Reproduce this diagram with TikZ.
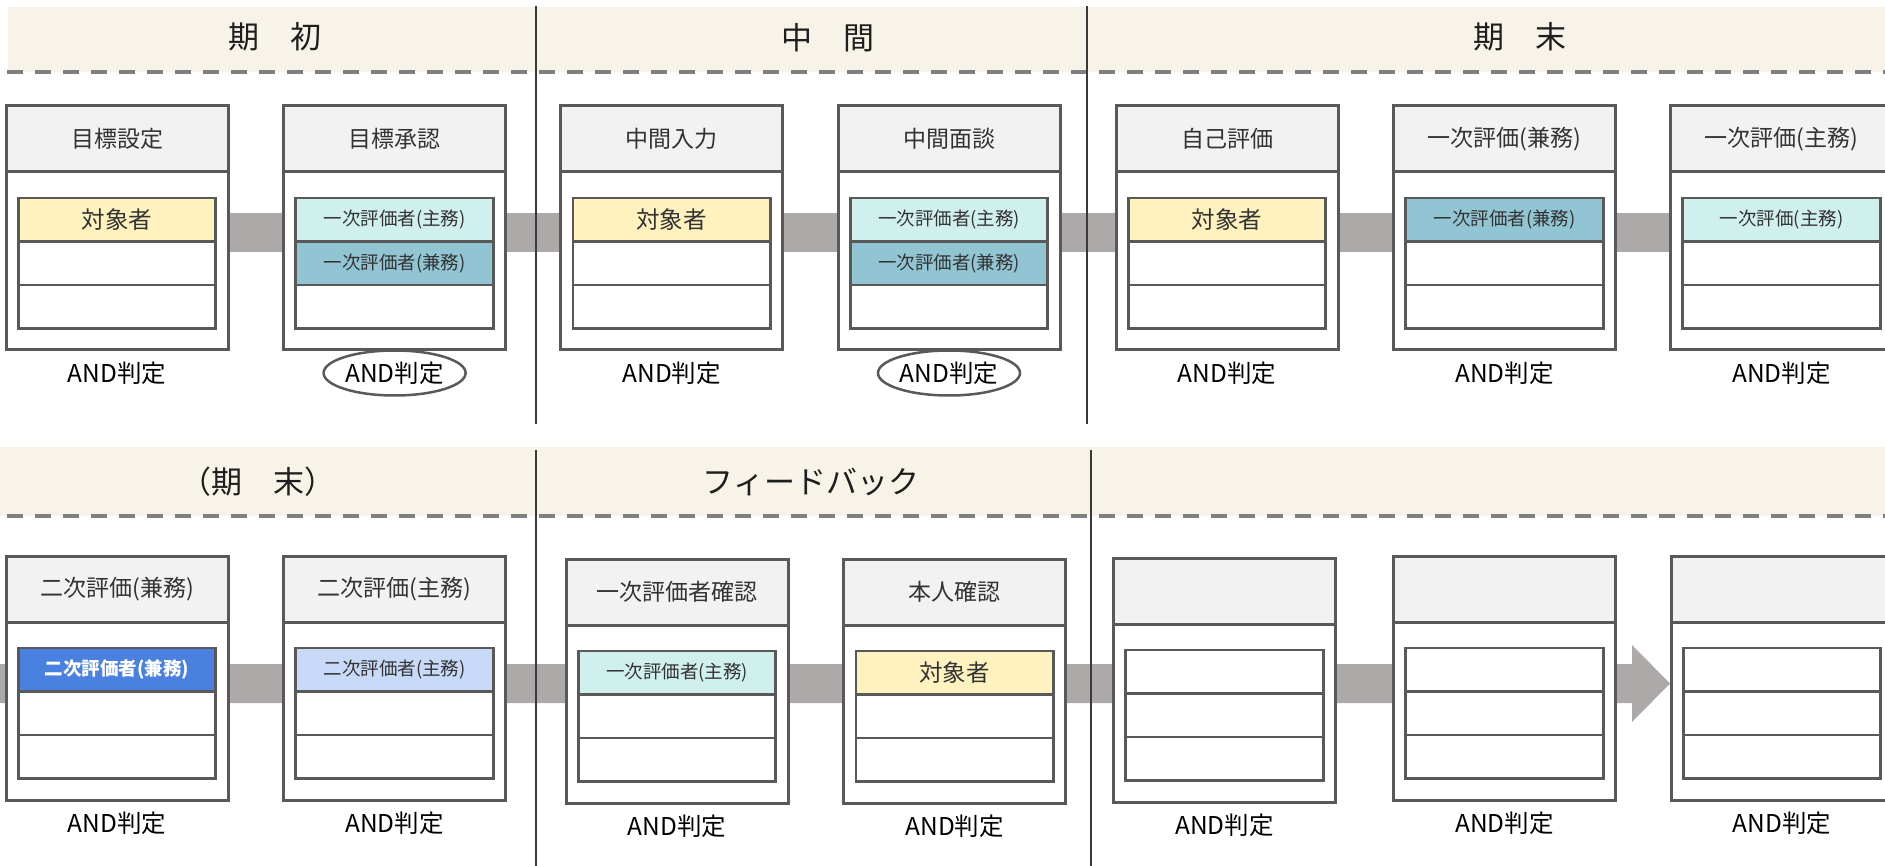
\documentclass[tikz,border=0pt]{standalone}
\usepackage{fontspec}
\setmainfont{Noto Sans CJK JP}
\usetikzlibrary{calc,shapes.geometric}
\definecolor{bandbg}{HTML}{F7F3E8}
\definecolor{dashc}{HTML}{7F7F7F}
\definecolor{boxline}{HTML}{595959}
\definecolor{headfill}{HTML}{F2F2F2}
\definecolor{flowc}{HTML}{ADA9A8}
\definecolor{ylw}{HTML}{FFF2BF}
\definecolor{lcyan}{HTML}{D0F0EE}
\definecolor{tealc}{HTML}{92C5D3}
\definecolor{cblue}{HTML}{4A80E0}
\definecolor{lblue}{HTML}{C9DAF8}
\definecolor{divc}{HTML}{3A3A3A}
\definecolor{txt}{HTML}{333333}
\definecolor{ttl}{HTML}{1E1E1E}
\tikzset{
  outerbox/.style={draw=boxline, line width=3pt, fill=white, minimum width=222pt, minimum height=244pt, inner sep=0pt},
  headbox/.style={draw=boxline, line width=3pt, fill=headfill, minimum width=222pt, minimum height=66pt, inner sep=0pt, font=\fontsize{23}{28}\selectfont, text=txt},
  cellbox/.style={draw=boxline, line width=2.8pt, fill=white, minimum width=197.5pt, minimum height=43.5pt, inner sep=0pt, font=\fontsize{18.5}{22}\selectfont, text=txt},
  yel/.style={fill=ylw, font=\fontsize{23.5}{28}\selectfont},
  cyn/.style={fill=lcyan},
  tea/.style={fill=tealc},
  blu/.style={fill=cblue, text=white, font=\fontsize{18.5}{22}\selectfont\bfseries},
  lbl/.style={fill=lblue},
  andlbl/.style={font=\fontsize{24.5}{29}\selectfont, text=black, inner sep=0pt},
  andell/.style={andlbl, draw=boxline, ellipse, line width=2.5pt, minimum width=142pt, minimum height=45pt},
  titletext/.style={font=\fontsize{31}{36}\selectfont, text=ttl, inner sep=0pt},
  phaseband/.style={fill=bandbg, draw=none},
  dashline/.style={draw=dashc, line width=3.6pt, dash pattern=on 16pt off 12pt},
  divider/.style={draw=divc, line width=1.5pt},
  flowline/.style={draw=flowc, line width=39pt},
}
% name, center x, top y, header, styleA, textA, styleB, textB, label style
\newcommand\stg[9]{%
  \node[outerbox] (#1) at (#2,#3+122) {};
  \node[headbox] (#1h) at (#2,#3+33) {#4};
  \node[cellbox,#5] (#1a) at (#2,#3+113.75) {#6};
  \node[cellbox,#7] (#1b) at (#2,#3+157.25) {#8};
  \node[cellbox] (#1c) at (#2,#3+200.75) {};
  \node[#9] (#1l) at (#2,#3+267) {AND判定};
}
\begin{document}
\begin{tikzpicture}[x=1pt,y=-1pt]
\useasboundingbox (0,0) rectangle (1885,866);
% phase bands
\fill[phaseband] (8,7) rectangle (1885,72);
\fill[phaseband] (0,447) rectangle (1885,516);
\draw[dashline] (7,72) -- (1885,72);
\draw[dashline] (7,516) -- (1885,516);
\node[titletext] (p1) at (274.6,37) {期　初};
\node[titletext] (p2) at (828,38) {中　間};
\node[titletext] (p3) at (1520,37) {期　末};
\node[titletext] (p4) at (258,482) {（期　末）};
\node[titletext] (p5) at (811,482) {フィードバック};
% flow bands
\coordinate (f1) at (117,232.5);
\coordinate (f7) at (1781,232.5);
\draw[flowline] (f1) -- (f7);
\coordinate (g0) at (0,683.5);
\coordinate (gtip) at (1670,683.5);
\fill[flowc] ($(g0)+(0,-19.5)$) -- ($(gtip)+(-38,-19.5)$) -- ($(gtip)+(-38,-38.5)$) -- (gtip) -- ($(gtip)+(-38,38.5)$) -- ($(gtip)+(-38,19.5)$) -- ($(g0)+(0,19.5)$) -- cycle;
% dividers
\draw[divider] (536,6) -- (536,424);
\draw[divider] (1087,6) -- (1087,424);
\draw[divider] (536,450) -- (536,866);
\draw[divider] (1091,450) -- (1091,866);
% top row
\stg{t1}{117}{106}{目標設定}{yel}{対象者}{}{}{andlbl}
\stg{t2}{394.6}{106}{目標承認}{cyn}{一次評価者(主務)}{tea}{一次評価者(兼務)}{andell}
\stg{t3}{671.7}{106}{中間入力}{yel}{対象者}{}{}{andlbl}
\stg{t4}{949}{106}{中間面談}{cyn}{一次評価者(主務)}{tea}{一次評価者(兼務)}{andell}
\stg{t5}{1227}{106}{自己評価}{yel}{対象者}{}{}{andlbl}
\stg{t6}{1504.5}{106}{一次評価(兼務)}{tea}{一次評価者(兼務)}{}{}{andlbl}
\stg{t7}{1781.5}{106}{一次評価(主務)}{cyn}{一次評価(主務)}{}{}{andlbl}
% bottom row
\stg{b1}{117}{556}{二次評価(兼務)}{blu}{二次評価者(兼務)}{}{}{andlbl}
\stg{b2}{394.6}{556}{二次評価(主務)}{lbl}{二次評価者(主務)}{}{}{andlbl}
\stg{b3}{677}{559}{一次評価者確認}{cyn}{一次評価者(主務)}{}{}{andlbl}
\stg{b4}{954.7}{559}{本人確認}{yel}{対象者}{}{}{andlbl}
\stg{b5}{1224.5}{558}{}{}{}{}{}{andlbl}
\stg{b6}{1504.5}{556}{}{}{}{}{}{andlbl}
\stg{b7}{1782}{556}{}{}{}{}{}{andlbl}
\end{tikzpicture}
\end{document}
